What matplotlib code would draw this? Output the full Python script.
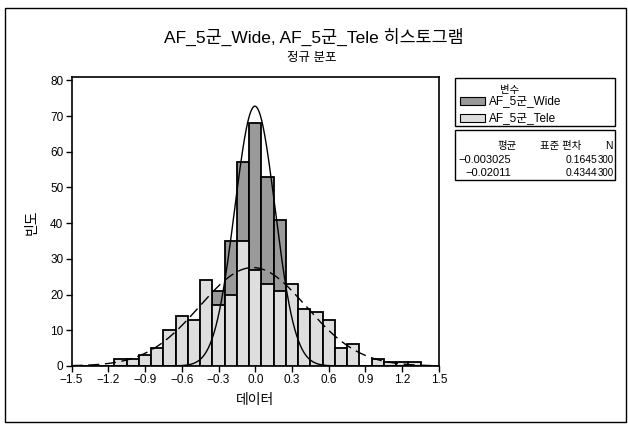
import numpy as np
import matplotlib
matplotlib.use('Agg')
from matplotlib import pyplot as plt
from matplotlib.patches import Rectangle

plt.rcParams['font.family'] = ['Liberation Sans', 'Noto Sans CJK KR']

# histogram bins (centres, width 0.1)
bin_centers = [-1.1, -1.0, -0.9, -0.8, -0.7, -0.6, -0.5, -0.4, -0.3, -0.2, -0.1, 0.0,
               0.1, 0.2, 0.3, 0.4, 0.5, 0.6, 0.7, 0.8, 0.9, 1.0, 1.1, 1.2, 1.3]
wide_counts = [0, 0, 0, 0, 0, 0, 2, 6, 21, 35, 57, 68,
               53, 41, 13, 3, 1, 0, 0, 0, 0, 0, 0, 0, 0]
tele_counts = [2, 2, 3, 5, 10, 14, 13, 24, 17, 20, 35, 27,
               23, 21, 23, 16, 15, 13, 5, 6, 0, 2, 1, 1, 1]

series_names = ['AF_5군_Wide', 'AF_5군_Tele']
means = [-0.003025, -0.02011]
stdevs = [0.1645, 0.4344]
n_obs = [300, 300]
bin_width = 0.1

x_ticks = [-1.5, -1.2, -0.9, -0.6, -0.3, 0.0, 0.3, 0.6, 0.9, 1.2, 1.5]
y_ticks = [0, 10, 20, 30, 40, 50, 60, 70, 80]

fill_colors = ['#9a9a9a', '#dedede']


def fmt(v, spec):
    return (spec % v).replace('-', '\u2212')


fig = plt.figure(figsize=(6.28, 4.24), dpi=100)
ax = fig.add_axes([0.114, 0.137, 0.585, 0.682])

ax.bar(bin_centers, wide_counts, width=bin_width, color=fill_colors[0],
       edgecolor='black', linewidth=1.3, zorder=2)
ax.bar(bin_centers, tele_counts, width=bin_width, color=fill_colors[1],
       edgecolor='black', linewidth=1.3, zorder=3)

# fitted normal curves scaled to counts
xs = np.linspace(-1.5, 1.5, 600)
for mu, sd, n, ls in zip(means, stdevs, n_obs, ['-', (0, (8, 4))]):
    ys = n * bin_width * np.exp(-0.5 * ((xs - mu) / sd) ** 2) / (sd * np.sqrt(2 * np.pi))
    ax.plot(xs, ys, color='black', linewidth=1.0, linestyle=ls, zorder=4)

ax.set_xlim(-1.5, 1.5)
ax.set_ylim(0, 81)
ax.set_xticks(x_ticks)
ax.set_xticklabels([fmt(t, '%.1f') for t in x_ticks])
ax.set_yticks(y_ticks)
ax.tick_params(direction='out', length=4, width=1, labelsize=8.5, pad=2)
for sp in ax.spines.values():
    sp.set_linewidth(1.2)


def fx(px):
    return px / 628.0


def fy(py):
    return 1 - py / 424.0


fig.text(fx(255), fy(400), '데이터', ha='center', va='center', fontsize=10)
fig.text(fx(32), fy(222), '빈도', ha='center', va='center', fontsize=10, rotation=90)

fig.text(fx(314), fy(43), 'AF_5군_Wide, AF_5군_Tele 히스토그램', ha='center',
         va='baseline', fontsize=12.5)
fig.text(fx(312), fy(61), '정규 분포', ha='center', va='baseline', fontsize=9)

# legend box
fig.patches.append(Rectangle((fx(455), fy(126)), fx(615) - fx(455), fy(78) - fy(126),
                             transform=fig.transFigure, fill=False,
                             edgecolor='black', linewidth=1.0))
fig.text(fx(510), fy(90), '변수', ha='center', va='center', fontsize=7.5)
for i, (name, col) in enumerate(zip(series_names, fill_colors)):
    yc = 101 + 17 * i
    fig.patches.append(Rectangle((fx(460), fy(yc + 4)), fx(485) - fx(460), fy(yc - 4) - fy(yc + 4),
                                 transform=fig.transFigure, facecolor=col,
                                 edgecolor='black', linewidth=0.8))
    fig.text(fx(489), fy(yc), name, ha='left', va='center', fontsize=8.5)

# statistics box
fig.patches.append(Rectangle((fx(455), fy(180)), fx(615) - fx(455), fy(130) - fy(180),
                             transform=fig.transFigure, fill=False,
                             edgecolor='black', linewidth=1.0))
fig.text(fx(517), fy(146), '평균', ha='right', va='center', fontsize=7.5)
fig.text(fx(581), fy(146), '표준 편차', ha='right', va='center', fontsize=7.5)
fig.text(fx(613), fy(146), 'N', ha='right', va='center', fontsize=7.5)
for i in range(2):
    yr = 160 + 12.5 * i
    fig.text(fx(511), fy(yr), fmt(means[i], '%g'), ha='right', va='center', fontsize=8)
    fig.text(fx(597), fy(yr), fmt(stdevs[i], '%g'), ha='right', va='center', fontsize=7.5)
    fig.text(fx(614), fy(yr), '%d' % n_obs[i], ha='right', va='center', fontsize=7)

# outer frame
fig.patches.append(Rectangle((fx(5), fy(422)), fx(626) - fx(5), fy(8) - fy(422),
                             transform=fig.transFigure, fill=False,
                             edgecolor='black', linewidth=1.0))

fig.savefig('out.png', dpi=100)
